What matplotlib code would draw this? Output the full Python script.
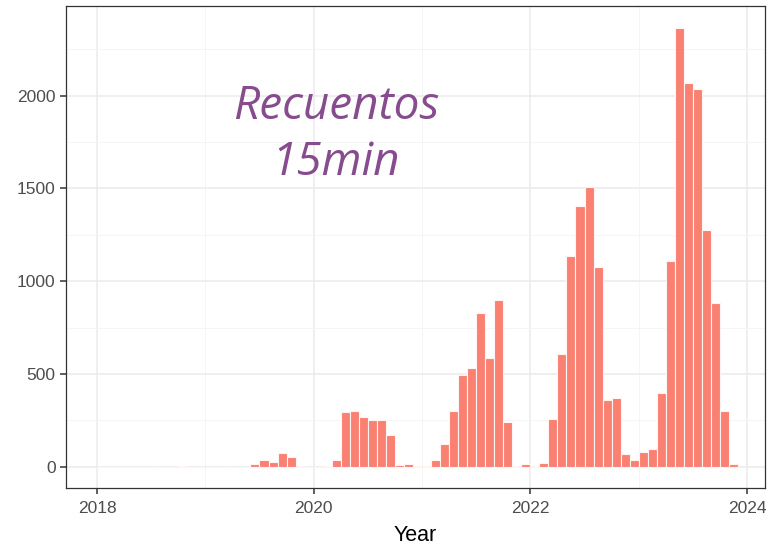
import matplotlib
matplotlib.use("Agg")
import matplotlib.pyplot as plt
import numpy as np

# monthly counts, Jan 2018 .. Nov 2023
start_year = 2018
counts = [
    # 2018
    0, 0, 0, 0, 0, 0, 0, 0, 0, 2, 0, 0,
    # 2019
    0, 0, 0, 0, 0, 12, 34, 23, 75, 52, 2, 0,
    # 2020
    0, 2, 35, 296, 298, 268, 252, 253, 172, 8, 14, 5,
    # 2021
    5, 36, 122, 300, 492, 534, 830, 588, 900, 239, 5, 16,
    # 2022
    4, 18, 259, 607, 1137, 1405, 1508, 1075, 359, 368, 66, 34,
    # 2023
    81, 93, 395, 1107, 2363, 2066, 2034, 1276, 880, 300, 14,
]
x_ticks = [2018, 2020, 2022, 2024]
y_ticks = [0, 500, 1000, 1500, 2000]
label_text = "Recuentos\n15min"

plt.rcParams['font.family'] = ['Liberation Sans', 'DejaVu Sans']

months = np.arange(len(counts))
x = start_year + months / 12

fig = plt.figure(figsize=(7.69, 5.48), dpi=100)
ax = fig.add_axes([0.0858, 0.1095, 0.9090, 0.8795])

ax.bar(x, counts, width=1 / 12, align="edge", color="#FA8072",
       edgecolor="#FFF4F2", linewidth=0.8, zorder=3)

ax.set_xlim(2017.714, 2024.166)
ax.set_ylim(-115, 2483)
ax.set_xticks(x_ticks)
ax.set_xticks([2019, 2021, 2023], minor=True)
ax.set_yticks(y_ticks)
ax.set_yticks([250, 750, 1250, 1750, 2250], minor=True)
ax.grid(which="major", color="#EBEBEB", linewidth=1.1, zorder=0)
ax.grid(which="minor", color="#F4F4F4", linewidth=0.6, zorder=0)
ax.tick_params(which="major", length=4.5, color="#333333", labelsize=12.5,
               labelcolor="#4D4D4D", width=1.1, pad=3)
ax.tick_params(axis="x", which="major", pad=5)
ax.tick_params(which="minor", length=0)
for s in ax.spines.values():
    s.set_color("#333333")
    s.set_linewidth(0.9)

ax.set_xlabel("Year", fontsize=15.5, color="black", labelpad=6)

fig.text(336 / 769, 1 - 135 / 548, label_text, ha="center", va="center",
         fontsize=33, fontstyle="italic", family="Open Sans",
         color="#864C8E", linespacing=1.3)

fig.savefig("out.png", dpi=100)
